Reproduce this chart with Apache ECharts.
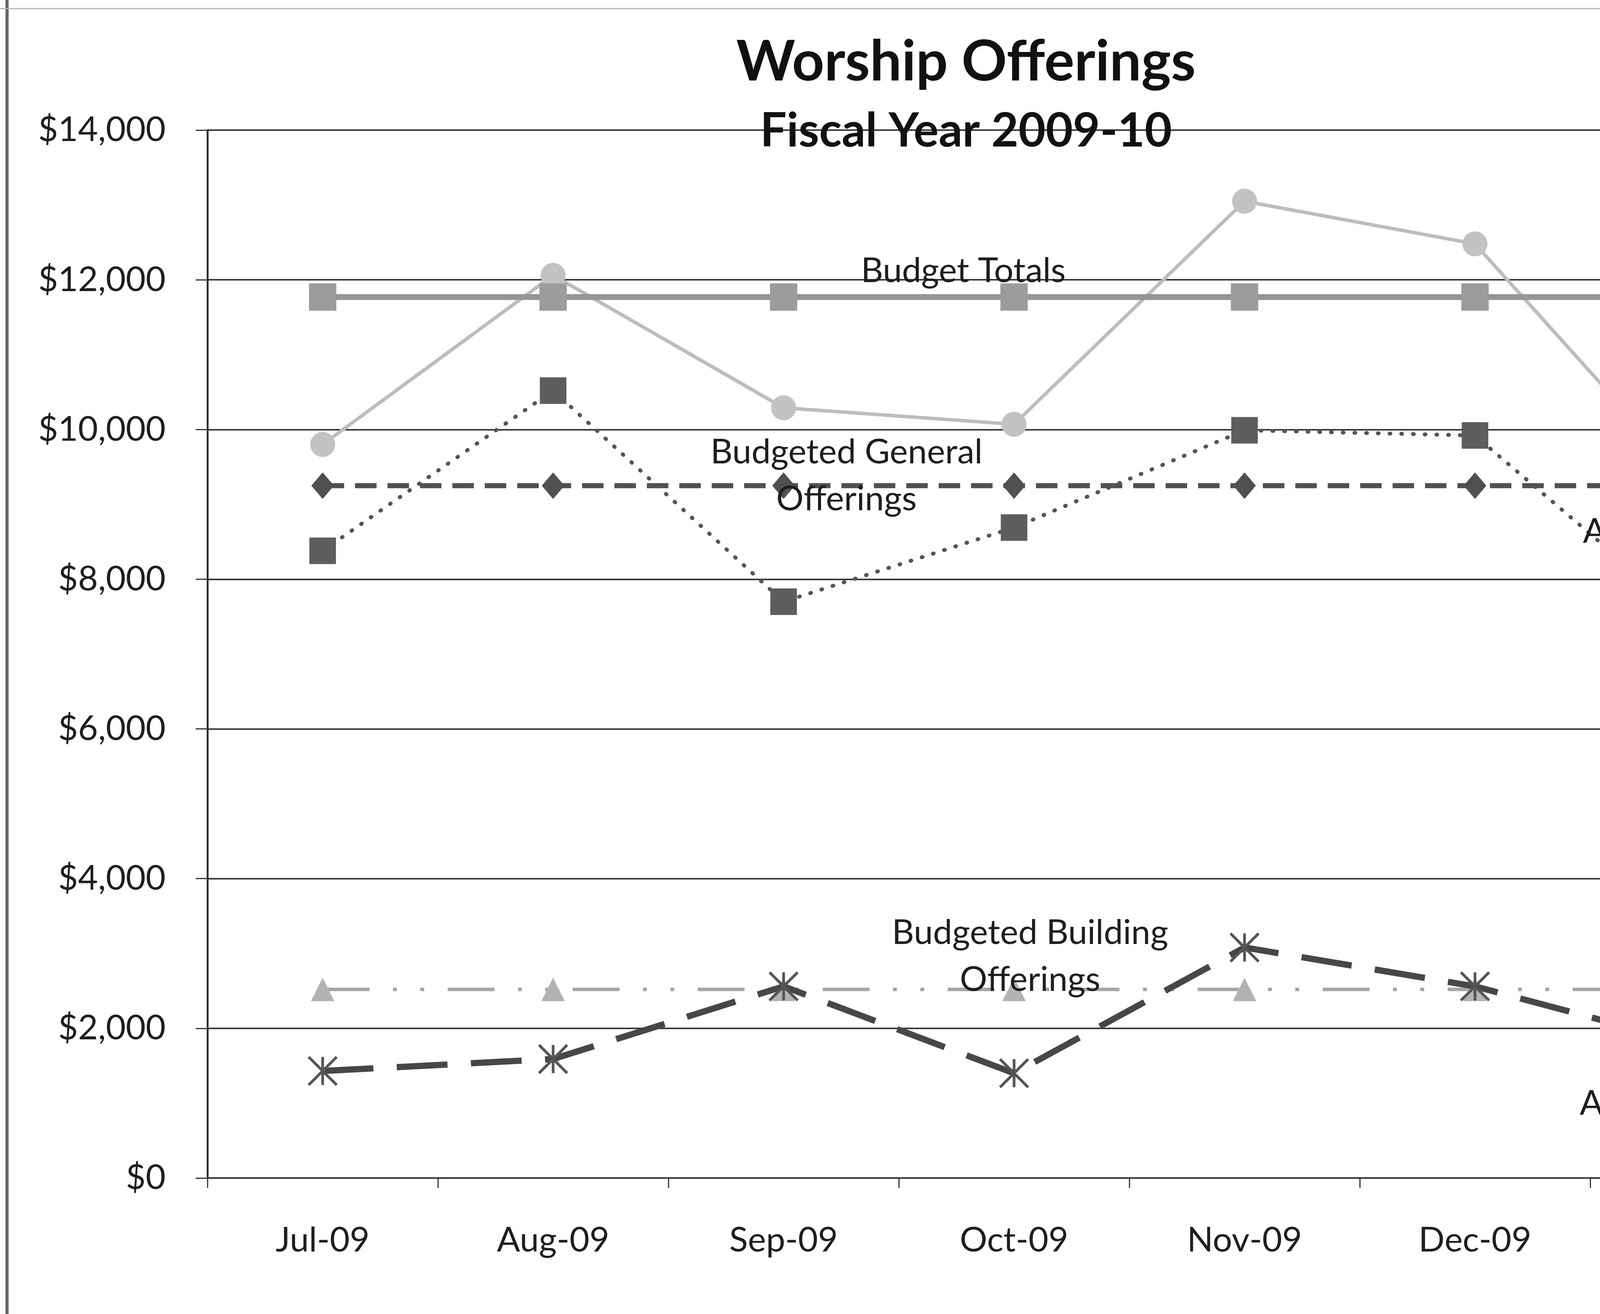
<!DOCTYPE html>
<html>
<head>
<meta charset="utf-8">
<script src="https://cdn.jsdelivr.net/npm/echarts@6/dist/echarts.min.js"></script>
<style>
html,body{margin:0;padding:0;background:#ffffff;overflow:hidden;}
#chart{width:4625px;height:3363px;}
</style>
</head>
<body>
<div id="chart"></div>
<script>
// ---- data ----
const categories = ['Jul-09', 'Aug-09', 'Sep-09', 'Oct-09', 'Nov-09', 'Dec-09', 'Jan-10'];
const budgetTotals     = [11770, 11770, 11770, 11770, 11770, 11770, 11770];
const actualTotals     = [9800, 12060, 10290, 10070, 13050, 12480, 9060];
const budgetedGeneral  = [9250, 9250, 9250, 9250, 9250, 9250, 9250];
const actualGeneral    = [8380, 10520, 7700, 8690, 9990, 9920, 7290];
const budgetedBuilding = [2520, 2520, 2520, 2520, 2520, 2520, 2520];
const actualBuilding   = [1430, 1590, 2560, 1400, 3080, 2560, 1740];
const yMin = 0, yMax = 14000, yStep = 2000;

const FONT = 'Lato';
const ASTERISK = 'path://M0,0L10,10M10,0L0,10M5,0L5,10';
const CROSS = 'path://M0,0L10,10M10,0L0,10';

function labelText(text, offset) {
  return {
    show: true, position: 'inside', offset: offset, formatter: text,
    fontFamily: FONT, fontSize: 88, lineHeight: 120, color: '#1e1e1e', align: 'center'
  };
}
function withLabel(values, idx, label, extra) {
  return values.map(function (v, i) {
    const item = { value: v };
    if (i === idx) {
      item.label = label;
      if (extra) Object.assign(item, extra);
    }
    return item;
  });
}

const chart = echarts.init(document.getElementById('chart'), null, { renderer: 'canvas' });

const option = {
  backgroundColor: '#ffffff',
  animation: false,
  title: [
    { text: 'Worship Offerings', left: 2473, top: 88, textAlign: 'center', padding: 0,
      textStyle: { fontFamily: FONT, fontWeight: 'bold', fontSize: 144, color: '#111' } },
    { text: 'Fiscal Year 2009-10', left: 2473, top: 276, textAlign: 'center', padding: 0,
      textStyle: { fontFamily: FONT, fontWeight: 'bold', fontSize: 120, color: '#111' } }
  ],
  graphic: [
    { type: 'line', shape: { x1: 18, y1: 0, x2: 18, y2: 3363 }, style: { stroke: '#666', lineWidth: 8 }, silent: true },
    { type: 'line', shape: { x1: 0, y1: 22, x2: 4625, y2: 22 }, style: { stroke: '#b5b5b5', lineWidth: 3 }, silent: true }
  ],
  grid: { left: 531, right: -36, top: 333, bottom: 348, containLabel: false, outerBoundsMode: 'none' },
  xAxis: {
    type: 'category',
    data: categories,
    boundaryGap: true,
    axisLine: { show: true, lineStyle: { color: '#333', width: 4 } },
    axisTick: { show: true, length: 25, lineStyle: { color: '#333', width: 3 } },
    axisLabel: { show: true, margin: 116, fontFamily: FONT, fontSize: 88, color: '#1e1e1e' },
    splitLine: { show: false }
  },
  yAxis: {
    type: 'value',
    min: yMin, max: yMax, interval: yStep,
    axisLine: { show: true, lineStyle: { color: '#333', width: 5 } },
    axisTick: { show: true, length: 30, lineStyle: { color: '#333', width: 3 } },
    axisLabel: {
      show: true, margin: 107, fontFamily: FONT, fontSize: 88, color: '#1e1e1e',
      formatter: function (v) { return '$' + v.toLocaleString('en-US'); }
    },
    splitLine: { show: true, lineStyle: { color: '#3a3a3a', width: 4 } }
  },
  series: [
    {
      name: 'Actual Totals', type: 'line', z: 3,
      data: withLabel(actualTotals, 6, labelText('Actual Totals', [27, -197])),
      symbol: 'circle', symbolSize: 64,
      itemStyle: { color: '#c2c2c2' },
      lineStyle: { color: '#bdbdbd', width: 9, type: 'solid' }
    },
    {
      name: 'Budget Totals', type: 'line', z: 4,
      data: withLabel(budgetTotals, 3, labelText('Budget Totals', [-130, -67])).map(function (d, i) {
        if (i === 6) {
          d.symbol = ASTERISK; d.symbolSize = 66;
          d.itemStyle = { color: 'rgba(0,0,0,0)', borderColor: '#555', borderWidth: 4 };
        }
        return d;
      }),
      symbol: 'rect', symbolSize: 70,
      itemStyle: { color: '#9c9c9c' },
      lineStyle: { color: '#959595', width: 15, type: 'solid' }
    },
    {
      name: 'Budgeted General Offerings', type: 'line', z: 5,
      data: withLabel(budgetedGeneral, 2, labelText('Budgeted General\nOfferings', [161, -25])),
      symbol: 'diamond', symbolSize: [58, 68],
      itemStyle: { color: '#505050' },
      lineStyle: { color: '#505050', width: 13, type: [55, 28] }
    },
    {
      name: 'Actual General Offerings', type: 'line', z: 6,
      data: withLabel(actualGeneral, 6, labelText('Actual General\nOfferings', [-29, -198])),
      symbol: 'rect', symbolSize: 68,
      itemStyle: { color: '#5e5e5e' },
      lineStyle: { color: '#555', width: 10, type: [2, 28], cap: 'round' }
    },
    {
      name: 'Budgeted Building Offerings', type: 'line', z: 3,
      data: withLabel(budgetedBuilding, 3, labelText('Budgeted Building\nOfferings', [41, -85])),
      symbol: 'triangle', symbolSize: 60,
      itemStyle: { color: '#b3b3b3' },
      lineStyle: { color: '#a6a6a6', width: 9, type: [120, 60, 10, 60, 10, 60] }
    },
    {
      name: 'Actual Building Offerings', type: 'line', z: 5,
      data: withLabel(actualBuilding, 6, labelText('Actual Building\nOfferings', [-32, 203])).map(function (d, i) {
        if (i === 6) {
          d.symbol = CROSS; d.symbolSize = 66;
          d.itemStyle = { color: 'rgba(0,0,0,0)', borderColor: '#555', borderWidth: 4 };
        }
        return d;
      }),
      symbol: ASTERISK, symbolSize: 72,
      itemStyle: { color: 'rgba(0,0,0,0)', borderColor: '#555', borderWidth: 7 },
      lineStyle: { color: '#474747', width: 16, type: [130, 60] }
    }
  ]
};

chart.setOption(option);
</script>
</body>
</html>
